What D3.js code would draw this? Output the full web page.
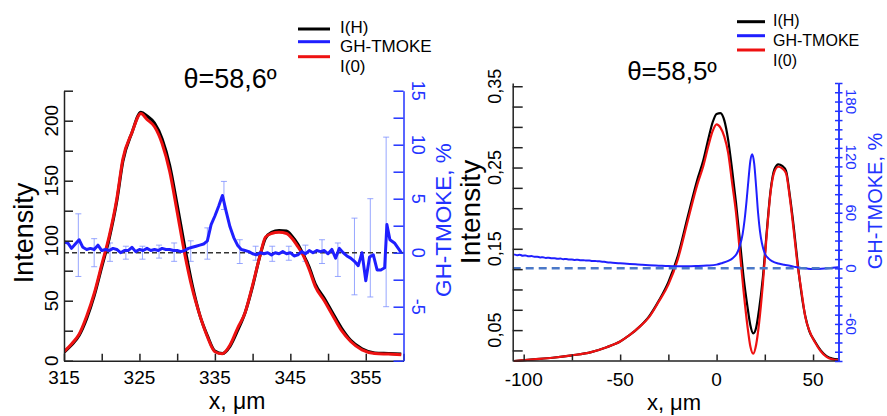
<!DOCTYPE html>
<html><head><meta charset="utf-8">
<script src="https://cdn.jsdelivr.net/npm/d3@7"></script>
<style>body{margin:0;background:#fff}svg{display:block;font-family:"Liberation Sans",Arial,sans-serif}</style>
</head><body><svg id="c" width="887" height="416"></svg>
<script>
// ---------- Left panel data (θ=58,6º) ----------
const leftTitle = "θ=58,6º";
const lX = [315,316,317,318,319,320,321,322,322.8,324,325.2,326,327,328,329,330,331,332,333,334,335,336,337,338,339,340,341,341.7,342.5,343.5,344.5,345.2,346,346.6,347.5,348.3,349.5,350.5,351.8,353,354.5,356.2,358,359.7];
const lIH = [7,13,21,35,54,78,102,133,166,190,207,204,198,185,163,130,95,63,38,21,8,6,12,25,40,62,88,102,107,108.5,108,104,97,90,78,64,52,41,27,17,10,6.5,6,5.5];
const lI0 = [7.5,14,22,37,56,80,104,135,168,190,206,201,195,181,158,124,89,60,38,20,7.5,5.8,13,27,40,63,88,103,106,107,106,102,95,89,76,62,50,39,25,16,9,6,5.5,5];
const lGhX = [315,315.5,316,316.5,317,317.5,318,318.5,319,319.5,320,320.5,321,321.5,322,322.5,323,323.5,324,324.5,325,325.5,326,326.5,327,327.5,328,328.5,329,329.5,330,330.5,331,331.5,332,332.5,333,333.5,334,334.5,335,335.5,336,336.5,337,337.5,338,338.5,339,339.5,340,340.5,341,341.5,342,342.5,343,343.5,344,344.5,345,345.5,346,346.5,347,347.5,348,348.5,349,349.5,350,350.5,351,351.5,352,352.5,353,353.5,354,354.5,355,355.5,356,356.5,357,357.5,357.8,358.2,358.8,359.7];
const lGh = [1.0,0.9,0.4,0.8,1.2,0.5,0.3,0.4,0.3,0.7,0.2,0.3,0.2,0.4,0.3,0.0,0.2,0.2,0.5,0.1,0.3,0.2,0.4,0.2,0.3,0.2,0.4,0.3,0.3,0.2,0.2,0.1,0.2,0.4,0.5,0.6,0.7,0.8,1.1,2.6,3.4,4.3,5.3,3.8,2.4,1.4,0.7,0.3,0.2,0.1,-0.1,-0.2,0.0,-0.1,0.0,-0.2,0.0,-0.1,0.1,-0.1,0.0,-0.3,-0.2,0.1,-0.1,0.2,0.0,0.2,0.1,0.2,-0.1,0.3,-0.5,0.4,0.0,-0.3,-0.5,-0.8,-1.2,0.0,-2.6,-0.4,-0.2,-1.6,-1.6,-1.4,2.6,1.2,0.9,0.0];
const lErrX  = [316.9,319.0,321.1,323.2,325.4,327.6,329.6,331.8,334.0,336.2,338.3,340.4,342.6,344.8,347.0,349.2,351.3,353.5,355.6,357.7];
const lErrHi = [3.6,1.3,0.9,0.6,0.6,0.7,0.9,1.1,2.3,6.6,1.2,0.6,0.6,0.6,0.7,1.2,0.9,3.2,5.0,10.7];
const lErrLo = [-2.2,-1.3,-0.8,-0.6,-0.6,-0.5,-0.8,-0.8,-0.6,4.0,-1.0,-0.7,-0.8,-0.7,-0.8,-1.0,-2.2,-3.9,-4.1,-5.0];
const lXTicks = [315,320,325,330,335,340,345,350,355,360];
const lXLabels = [315,325,335,345,355];
const lYTicks = [0,25,50,75,100,125,150,175,200,225];
const lYLabels = [0,50,100,150,200];
const lY2Ticks = [-10,-7.5,-5,-2.5,0,2.5,5,7.5,10,12.5,15];
const lY2Labels = [-5,0,5,10,15];

// ---------- Right panel data (θ=58,5º) ----------
const rightTitle = "θ=58,5º";
const rX = [-105,-95,-85,-75,-65,-57,-50,-45,-40,-35,-30,-25,-20,-15,-10,-7,-4,-2,0,2,4,6,8,10,12,14,16,17.5,19,20.5,22,24,26,28,30,32,34,36,38,40,42,44,46,48,51,54,57,60,63];
const rIH = [0.012,0.014,0.016,0.019,0.023,0.029,0.036,0.044,0.054,0.067,0.086,0.109,0.142,0.189,0.235,0.258,0.288,0.306,0.316,0.317,0.308,0.284,0.248,0.208,0.162,0.115,0.079,0.056,0.046,0.053,0.075,0.115,0.171,0.222,0.248,0.254,0.252,0.246,0.215,0.177,0.133,0.095,0.067,0.049,0.036,0.025,0.018,0.015,0.014];
const rI0 = [0.012,0.014,0.016,0.019,0.023,0.029,0.036,0.044,0.054,0.066,0.085,0.106,0.138,0.184,0.229,0.251,0.279,0.295,0.303,0.299,0.288,0.268,0.232,0.196,0.148,0.098,0.055,0.030,0.021,0.032,0.058,0.107,0.168,0.220,0.245,0.251,0.249,0.243,0.212,0.172,0.130,0.098,0.066,0.050,0.035,0.024,0.017,0.014,0.013];
const rGhX = [-105,-103.5,-102,-100.5,-99,-97.5,-96,-94.5,-93,-91.5,-90,-88.5,-87,-85.5,-84,-82.5,-81,-79.5,-78,-76.5,-75,-73.5,-72,-70.5,-69,-67.5,-66,-64.5,-63,-61.5,-60,-57,-54,-51,-48,-45,-42,-39,-35,-30,-25,-20,-15,-10,-5,0,3,6,8.5,10.5,12,13.5,14.5,15.5,16.5,17.5,18.5,19.5,20.5,21.5,22.5,23.5,25,27,29,32,35,38,41,44,47,50,53,56,59,63];
const rGh = [15.0,14.2,14.6,13.6,13.9,13.0,13.3,12.4,12.6,11.8,12.0,11.2,11.4,10.8,10.9,10.3,10.5,9.9,10.0,9.5,9.6,9.1,9.2,8.8,8.8,8.4,8.4,8.0,8.0,7.6,7.5,6.6,6.1,5.6,5.1,4.7,4.3,3.9,3.4,2.9,2.4,2.2,2.2,2.5,3.0,4.0,5.8,8.0,11.2,16,24,37,52,72,95,116,123,113,88,60,40,27,16,10.5,7.5,5.2,3.8,2.8,1.4,0.4,-0.3,-0.7,-0.6,-0.2,0.4,1.1];
const rXTicks = [-100,-75,-50,-25,0,25,50];
const rXLabels = [-100,-50,0,50];
const rYTicks = [0.025,0.05,0.075,0.1,0.125,0.15,0.175,0.2,0.225,0.25,0.275,0.3,0.325,0.35];
const rYLabels = [0.05,0.15,0.25,0.35];
const rY2Ticks = d3.range(-100, 201, 10);
const rY2Labels = [-60,0,60,120,180];

const legendLabels = ["I(H)","GH-TMOKE","I(0)"];
const legendColors = ["#000000","#1f1fff","#ee1111"];

// ---------- drawing ----------
const svg = d3.select("#c");
const BLUE = "#2233ff", AX = "#222";

function axisStyle(g, color){
  g.selectAll("path,line").attr("stroke", color).attr("stroke-width", 1.5);
  g.selectAll("text").remove();
}
function rotText(x, y, angle, txt, size, color, anchor){
  svg.append("text").attr("transform", `translate(${x},${y}) rotate(${angle})`)
    .attr("text-anchor", anchor || "middle").attr("font-size", size).attr("fill", color || "#000").text(txt);
}

// ===== Left panel =====
const xL = d3.scaleLinear().domain([315,360]).range([64,403.5]);
const yL = d3.scaleLinear().domain([0,225]).range([360.7,90.7]);
const yL2 = d3.scaleLinear().domain([-10,15]).range([360.7,90.7]);

svg.append("defs").append("clipPath").attr("id","clipL").append("rect")
  .attr("x",64).attr("y",84).attr("width",340).attr("height",278);

const gL = svg.append("g").attr("clip-path","url(#clipL)");
lErrX.forEach((x,i)=>{
  const g = gL.append("g").attr("stroke","#7d90ff").attr("stroke-opacity",0.8).attr("stroke-width",1);
  g.append("line").attr("x1",xL(x)).attr("x2",xL(x)).attr("y1",yL2(lErrLo[i])).attr("y2",yL2(lErrHi[i]));
  g.append("line").attr("x1",xL(x)-3).attr("x2",xL(x)+3).attr("y1",yL2(lErrLo[i])).attr("y2",yL2(lErrLo[i]));
  g.append("line").attr("x1",xL(x)-3).attr("x2",xL(x)+3).attr("y1",yL2(lErrHi[i])).attr("y2",yL2(lErrHi[i]));
});
gL.append("line").attr("x1",xL(315)).attr("x2",xL(360)).attr("y1",yL2(0)).attr("y2",yL2(0))
  .attr("stroke","#333").attr("stroke-width",1.5).attr("stroke-dasharray","5,3");
const lineL = d3.line().curve(d3.curveMonotoneX);
gL.append("path").attr("d", lineL(lX.map((x,i)=>[xL(x), yL(lIH[i])])))
  .attr("fill","none").attr("stroke","#000").attr("stroke-width",3);
gL.append("path").attr("d", lineL(lX.map((x,i)=>[xL(x), yL(lI0[i])])))
  .attr("fill","none").attr("stroke","#ee1111").attr("stroke-width",3);
gL.append("path").attr("d", d3.line()(lGhX.map((x,i)=>[xL(x), yL2(lGh[i])])))
  .attr("fill","none").attr("stroke","#1f1fff").attr("stroke-width",3).attr("stroke-linejoin","round");

axisStyle(svg.append("g").attr("transform","translate(0,360.7)")
  .call(d3.axisBottom(xL).tickValues(lXTicks).tickSizeInner(-7).tickSizeOuter(0)), AX);
axisStyle(svg.append("g").attr("transform","translate(64,0)")
  .call(d3.axisLeft(yL).tickValues(lYTicks).tickSizeInner(-9).tickSizeOuter(0)), AX);
axisStyle(svg.append("g").attr("transform","translate(403.5,0)")
  .call(d3.axisRight(yL2).tickValues(lY2Ticks).tickSizeInner(-10).tickSizeOuter(0)), BLUE);

lXLabels.forEach(v=> svg.append("text").attr("x",xL(v)).attr("y",383.5).attr("text-anchor","middle")
  .attr("font-size",19).text(v));
lYLabels.forEach(v=> rotText(58, yL(v), -90, v, 19, "#000"));
lY2Labels.forEach(v=> rotText(411.5, yL2(v), 90, String(v), 18, BLUE));

svg.append("text").attr("x",237).attr("y",409).attr("text-anchor","middle").attr("font-size",23).text("x, μm");
rotText(33, 233, -90, "Intensity", 27, "#000");
svg.append("text").attr("x",230).attr("y",88).attr("text-anchor","middle").attr("font-size",27).text(leftTitle);

legendLabels.forEach((t,i)=>{
  const ly = [29,41.7,56.7][i], ty = [33,51.5,72][i];
  svg.append("line").attr("x1",298).attr("x2",330).attr("y1",ly).attr("y2",ly)
    .attr("stroke",legendColors[i]).attr("stroke-width",3);
  svg.append("text").attr("x",340).attr("y",ty).attr("font-size",17).text(t);
});

rotText(451, 220, -90, "GH-TMOKE, %", 22.5, BLUE);

// ===== Right panel =====
const xR = d3.scaleLinear().domain([-105.7,63.2]).range([512.7,838.5]);
const yR = d3.scaleLinear().domain([0.012,0.354]).range([361,83]);
const yR2 = d3.scaleLinear().domain([-100,200]).range([361,83]);

svg.select("defs").append("clipPath").attr("id","clipR").append("rect")
  .attr("x",512.7).attr("y",80).attr("width",326).attr("height",282);
const gR = svg.append("g").attr("clip-path","url(#clipR)");
const lineR = d3.line().curve(d3.curveMonotoneX);
gR.append("path").attr("d", lineR(rX.map((x,i)=>[xR(x), yR(rIH[i])])))
  .attr("fill","none").attr("stroke","#000").attr("stroke-width",2.2);
gR.append("path").attr("d", lineR(rX.map((x,i)=>[xR(x), yR(rI0[i])])))
  .attr("fill","none").attr("stroke","#ee1111").attr("stroke-width",2.2);
gR.append("path").attr("d", d3.line().curve(d3.curveMonotoneX)(rGhX.map((x,i)=>[xR(x), yR2(rGh[i])])))
  .attr("fill","none").attr("stroke","#1f1fff").attr("stroke-width",2);
gR.append("line").attr("x1",xR(-105.7)).attr("x2",xR(63.2)).attr("y1",yR2(0)).attr("y2",yR2(0))
  .attr("stroke","#4a78c8").attr("stroke-width",2.5).attr("stroke-dasharray","8,5");

axisStyle(svg.append("g").attr("transform","translate(0,360.5)")
  .call(d3.axisBottom(xR).tickValues(rXTicks).tickSizeInner(-6).tickSizeOuter(0)), AX);
axisStyle(svg.append("g").attr("transform","translate(512.7,0)")
  .call(d3.axisLeft(yR).tickValues(rYTicks).tickSizeInner(-10).tickSizeOuter(0)), AX);
axisStyle(svg.append("g").attr("transform","translate(838.5,0)")
  .call(d3.axisRight(yR2).tickValues(rY2Ticks).tickSizeInner(4).tickSizeOuter(0)), BLUE);
axisStyle(svg.append("g").attr("transform","translate(838.5,0)")
  .call(d3.axisRight(yR2).tickValues(rY2Ticks).tickSizeInner(-3.5).tickSizeOuter(0)), BLUE);

rXLabels.forEach(v=> svg.append("text").attr("x",xR(v)).attr("y",386).attr("text-anchor","middle")
  .attr("font-size",19).text(String(v)));
rYLabels.forEach(v=> rotText(501, yR(v), -90, d3.format(".2f")(v).replace(".",","), 18, "#000"));
rY2Labels.forEach(v=> rotText(846, yR2(v), 90, String(v), 15, BLUE));

svg.append("text").attr("x",674).attr("y",410).attr("text-anchor","middle").attr("font-size",22).text("x, μm");
rotText(480, 212, -90, "Intensity", 28, "#000");
rotText(882, 201, -90, "GH-TMOKE, %", 20, BLUE);
svg.append("text").attr("x",672).attr("y",80).attr("text-anchor","middle").attr("font-size",26).text(rightTitle);

legendLabels.forEach((t,i)=>{
  const ly = [21.7,35.7,50][i], ty = [26,45.5,66][i];
  svg.append("line").attr("x1",737).attr("x2",765).attr("y1",ly).attr("y2",ly)
    .attr("stroke",legendColors[i]).attr("stroke-width",3);
  svg.append("text").attr("x",773).attr("y",ty).attr("font-size",16).text(t);
});
</script></body></html>
